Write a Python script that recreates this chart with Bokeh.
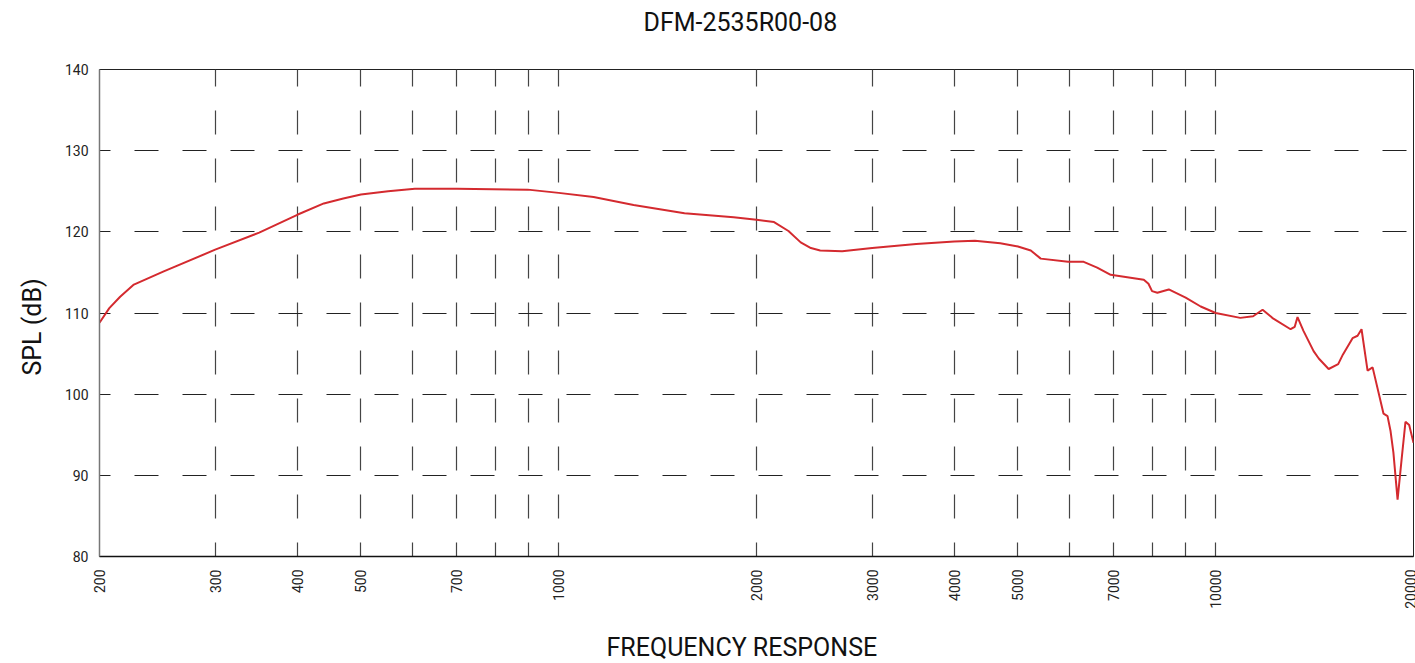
import numpy as np
from bokeh.plotting import figure
from bokeh.models import FixedTicker, NumeralTickFormatter, Range1d, Title
from bokeh.embed import file_html
from bokeh.resources import INLINE

# ---- data ----
freq_hz = [200, 207, 215, 225.6, 250, 300, 350, 400, 439, 470, 500, 550, 604, 700, 897, 1000,
           1130, 1300, 1554, 1846, 2000, 2127, 2237, 2335, 2420, 2500, 2700, 3000, 3500,
           4000, 4300, 4700, 5000, 5230, 5416, 5960, 6296, 6600, 6921, 7772, 7900,
           8000, 8150, 8483, 9000, 9487, 10000, 10900, 11400, 11785, 12240, 13000,
           13190, 13320, 13600, 14092, 14350, 14855, 15360, 15620, 16154, 16440,
           16670, 17026, 17330, 18006, 18260, 18450, 18640, 18914, 19180, 19446,
           19700, 20000]
spl_db = [108.8, 110.6, 112.0, 113.5, 115.1, 117.8, 119.9, 122.1, 123.5, 124.1, 124.6,
          125.0, 125.3, 125.3, 125.2, 124.8, 124.3, 123.3, 122.3, 121.8, 121.5, 121.2,
          120.1, 118.7, 118.0, 117.7, 117.6, 118.0, 118.5, 118.8, 118.9, 118.6, 118.2,
          117.7, 116.7, 116.3, 116.3, 115.6, 114.7, 114.1, 113.6, 112.7, 112.5,
          112.9, 111.9, 110.8, 110.0, 109.4, 109.6, 110.4, 109.3, 108.0, 108.3,
          109.5, 107.8, 105.3, 104.4, 103.1, 103.7, 104.9, 106.9, 107.2, 108.0,
          102.9, 103.3, 97.6, 97.3, 95.5, 92.8, 87.0, 91.9, 96.6, 96.2, 94.0]

x_label_ticks = [200, 300, 400, 500, 700, 1000, 2000, 3000, 4000, 5000, 7000, 10000, 20000]
x_grid_ticks = [300, 400, 500, 600, 700, 800, 900, 1000,
                2000, 3000, 4000, 5000, 6000, 7000, 8000, 9000, 10000]
y_label_ticks = [80, 90, 100, 110, 120, 130, 140]
y_grid_ticks = [90, 100, 110, 120, 130]

chart_title = "DFM-2535R00-08"
x_title = "FREQUENCY RESPONSE"
y_title = "SPL (dB)"

FONT = "Roboto"
W, H = 1415, 663

p = figure(width=W, height=H, x_axis_type="log",
           x_range=Range1d(200, 20000), y_range=Range1d(80, 140),
           output_backend="svg", toolbar_location=None,
           min_border_left=98, min_border_right=2, min_border_top=69, min_border_bottom=107)

p.line(freq_hz, spl_db, line_color="#d42a2f", line_width=2)

txt = dict(text_font=FONT, text_font_size="25px", text_font_style="normal",
           text_color="#111111")

# spacer panels (blank) to position the texts
p.add_layout(Title(text=" ", text_font_size="10px", standoff=20), "above")
p.add_layout(Title(text=chart_title, align="left", offset=544, standoff=0, **txt), "above")

xa = p.xaxis[0]
xa.ticker = FixedTicker(ticks=x_label_ticks)
xa.formatter = NumeralTickFormatter(format="0")
xa.major_label_orientation = np.pi / 2
xa.major_tick_line_color = None
xa.major_tick_out = 0
xa.major_tick_in = 0
xa.minor_tick_line_color = None
xa.minor_tick_out = 0
xa.major_label_standoff = 13
xa.major_label_text_font = FONT
xa.major_label_text_font_size = "14px"
xa.major_label_text_color = "#222222"
xa.axis_line_color = "#111111"
xa.axis_line_width = 1.5

p.add_layout(Title(text=" ", text_font_size="10px", standoff=4), "below")
p.add_layout(Title(text=x_title, align="left", offset=507, standoff=4, **txt), "below")

ya = p.yaxis[0]
ya.ticker = FixedTicker(ticks=y_label_ticks)
ya.major_tick_line_color = None
ya.major_tick_out = 0
ya.major_tick_in = 0
ya.minor_tick_line_color = None
ya.minor_tick_out = 0
ya.major_label_standoff = 11
ya.major_label_text_font = FONT
ya.major_label_text_font_size = "14px"
ya.major_label_text_color = "#222222"
ya.axis_line_color = "#777777"
ya.axis_line_width = 1.5

p.add_layout(Title(text=y_title, align="left", offset=181, standoff=30, **txt), "left")

p.xgrid.ticker = FixedTicker(ticks=x_grid_ticks)
p.xgrid.grid_line_color = "#444444"
p.xgrid.grid_line_width = 1.2
p.xgrid.grid_line_dash = "24 24"
p.xgrid.grid_line_dash_offset = 10

p.ygrid.ticker = FixedTicker(ticks=y_grid_ticks)
p.ygrid.grid_line_color = "#222222"
p.ygrid.grid_line_width = 1.2
p.ygrid.grid_line_dash = "24 24"
p.ygrid.grid_line_dash_offset = 13

p.outline_line_color = "#222222"
p.outline_line_width = 1
p.background_fill_color = "white"
p.border_fill_color = "white"

open("out.html", "w").write(file_html(p, INLINE))
